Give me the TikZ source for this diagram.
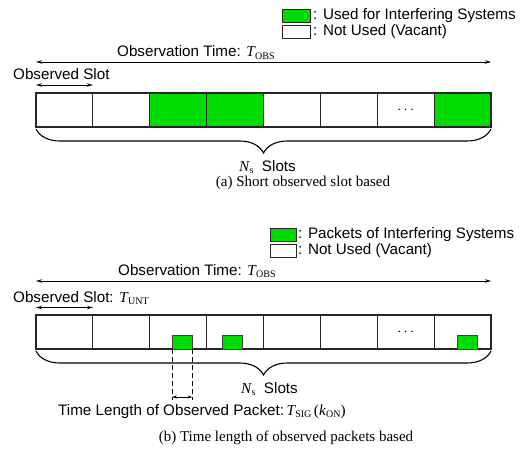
\documentclass[tikz,border=0pt]{standalone}
\usepackage{fontspec}
\setmainfont{Liberation Sans}
\newfontfamily\timesfont{Liberation Serif}
\usepackage{xcolor}
\usepackage{tikz}
\usetikzlibrary{arrows.meta, positioning, calc, decorations.pathreplacing}

\definecolor{usedgreen}{RGB}{0,220,0}
% symbol with upright subscript (Times look)
\newcommand{\symsub}[2]{{\timesfont\itshape #1}\kern0.3pt\raisebox{-2.4pt}{\timesfont\fontsize{10}{10}\selectfont #2}}

\begin{document}
\begin{tikzpicture}[
    x=1pt, y=1pt,
    % Define styles for the nodes
    slot_node/.style={rectangle, draw=black!85, line width=1.1pt, minimum width=56.875pt, minimum height=34pt, inner sep=0pt, outer sep=0pt, font=\fontsize{15}{18}\selectfont},
    used_node/.style={slot_node, fill=usedgreen},
    packet_node/.style={rectangle, draw=black!75, line width=1pt, fill=usedgreen, minimum width=20pt, minimum height=13.5pt, inner sep=0pt, outer sep=0pt},
    key_node/.style={rectangle, draw=black!85, line width=1pt, minimum width=28pt, minimum height=13pt, inner sep=0pt, outer sep=0pt},
    label_node/.style={inner sep=0pt, text height=11pt, text depth=3pt, font=\fontsize{15.2}{18}\selectfont},
    caption_node/.style={inner sep=0pt, font=\fontsize{15}{18}\selectfont\timesfont},
    % Styles for arrows
    span_arrow/.style={{Stealth[length=6pt,width=3.5pt]}-{Stealth[length=6pt,width=3.5pt]}, line width=0.9pt},
    short_arrow/.style={{Stealth[length=4.5pt,width=3pt]}-{Stealth[length=4.5pt,width=3pt]}, line width=0.9pt},
    guide_line/.style={dashed, dash pattern=on 5pt off 3pt, line width=0.9pt},
    brace_line/.style={decorate, decoration={brace, mirror, amplitude=24pt, aspect=0.5}, line width=1.1pt}
]
    \useasboundingbox (0,0) rectangle (529,-449);

    % =========================================================================
    % (a) SHORT OBSERVED SLOT BASED
    % =========================================================================
    \node (key_used_a) [key_node, fill=usedgreen, anchor=north west] at (282,-9.5) {};
    \node (key_free_a) [key_node, below=3pt of key_used_a] {};
    \node (txt_used_a) [label_node, right=3pt of key_used_a] {: Used for Interfering Systems};
    \node (txt_free_a) [label_node, right=3pt of key_free_a] {: Not Used (Vacant)};

    \node (slot_a1) [slot_node, anchor=north west] at (36,-93) {};
    \node (slot_a2) [slot_node, right=0pt of slot_a1] {};
    \node (slot_a3) [used_node, right=0pt of slot_a2] {};
    \node (slot_a4) [used_node, right=0pt of slot_a3] {};
    \node (slot_a5) [slot_node, right=0pt of slot_a4] {};
    \node (slot_a6) [slot_node, right=0pt of slot_a5] {};
    \node (slot_a7) [slot_node, right=0pt of slot_a6] {$\cdots$};
    \node (slot_a8) [used_node, right=0pt of slot_a7] {};

    \node (obs_time_a) [label_node, anchor=base west] at (117,-57) {Observation Time: \symsub{T}{OBS}};
    \draw [span_arrow] ([yshift=31pt]slot_a1.north west) -- ([yshift=31pt]slot_a8.north east);

    \node (obs_slot_a) [label_node, anchor=base west] at (13,-79.5) {Observed Slot};
    \draw [span_arrow] ([yshift=8pt]slot_a1.north west) -- ([yshift=8pt]slot_a1.north east);

    \draw [brace_line] ([yshift=-2pt]slot_a1.south west) -- ([yshift=-2pt]slot_a8.south east);
    \node (num_a) [label_node, anchor=base] at (267.5,-171.5) {\symsub{N}{s}\ \ Slots};
    \node (caption_a) [caption_node, anchor=base] at (303,-186.5) {(a) Short observed slot based};

    % =========================================================================
    % (b) TIME LENGTH OF OBSERVED PACKETS BASED
    % =========================================================================
    \node (key_used_b) [key_node, fill=usedgreen, minimum width=26pt, anchor=north west] at (270,-228) {};
    \node (key_free_b) [key_node, minimum width=26pt, below=3pt of key_used_b] {};
    \node (txt_used_b) [label_node, right=2pt of key_used_b] {: Packets of Interfering Systems};
    \node (txt_free_b) [label_node, right=2pt of key_free_b] {: Not Used (Vacant)};

    \node (slot_b1) [slot_node, anchor=north west] at (36,-315) {};
    \node (slot_b2) [slot_node, right=0pt of slot_b1] {};
    \node (slot_b3) [slot_node, right=0pt of slot_b2] {};
    \node (slot_b4) [slot_node, right=0pt of slot_b3] {};
    \node (slot_b5) [slot_node, right=0pt of slot_b4] {};
    \node (slot_b6) [slot_node, right=0pt of slot_b5] {};
    \node (slot_b7) [slot_node, right=0pt of slot_b6] {$\cdots$};
    \node (slot_b8) [slot_node, right=0pt of slot_b7] {};

    % packets sit on the bottom line of their slots
    \node (pkt_1) [packet_node, anchor=south west] at ([xshift=22.5pt]slot_b3.south west) {};
    \node (pkt_2) [packet_node, anchor=south west] at ([xshift=15.5pt]slot_b4.south west) {};
    \node (pkt_3) [packet_node, anchor=south west] at ([xshift=23pt]slot_b8.south west) {};

    \node (obs_time_b) [label_node, anchor=base west] at (118,-275.5) {Observation Time: \symsub{T}{OBS}};
    \draw [span_arrow] ([yshift=34pt]slot_b1.north west) -- ([yshift=34pt]slot_b8.north east);

    \node (obs_slot_b) [label_node, anchor=base west] at (13,-302.5) {Observed Slot: \symsub{T}{UNT}};
    \draw [span_arrow] ([yshift=7.5pt]slot_b1.north west) -- ([yshift=7.5pt]slot_b1.north east);

    \draw [brace_line] ([yshift=-2pt]slot_b1.south west) -- ([yshift=-2pt]slot_b8.south east);
    \node (num_b) [label_node, anchor=base] at (269.5,-393) {\symsub{N}{s}\ \ Slots};

    % packet length marker
    \draw [guide_line] (pkt_1.south west) -- ([yshift=-51pt]pkt_1.south west);
    \draw [guide_line] (pkt_1.south east) -- ([yshift=-51pt]pkt_1.south east);
    \draw [short_arrow] ([yshift=-48pt]pkt_1.south west) -- ([yshift=-48pt]pkt_1.south east);
    \node (pkt_len) [label_node, anchor=base west] at (58,-415.5) {Time Length of Observed Packet:\,\symsub{T}{SIG}\,{\timesfont(}\symsub{k}{ON}{\timesfont)}};

    \node (caption_b) [caption_node, anchor=base] at (286,-441.5) {(b) Time length of observed packets based};

\end{tikzpicture}
\end{document}
